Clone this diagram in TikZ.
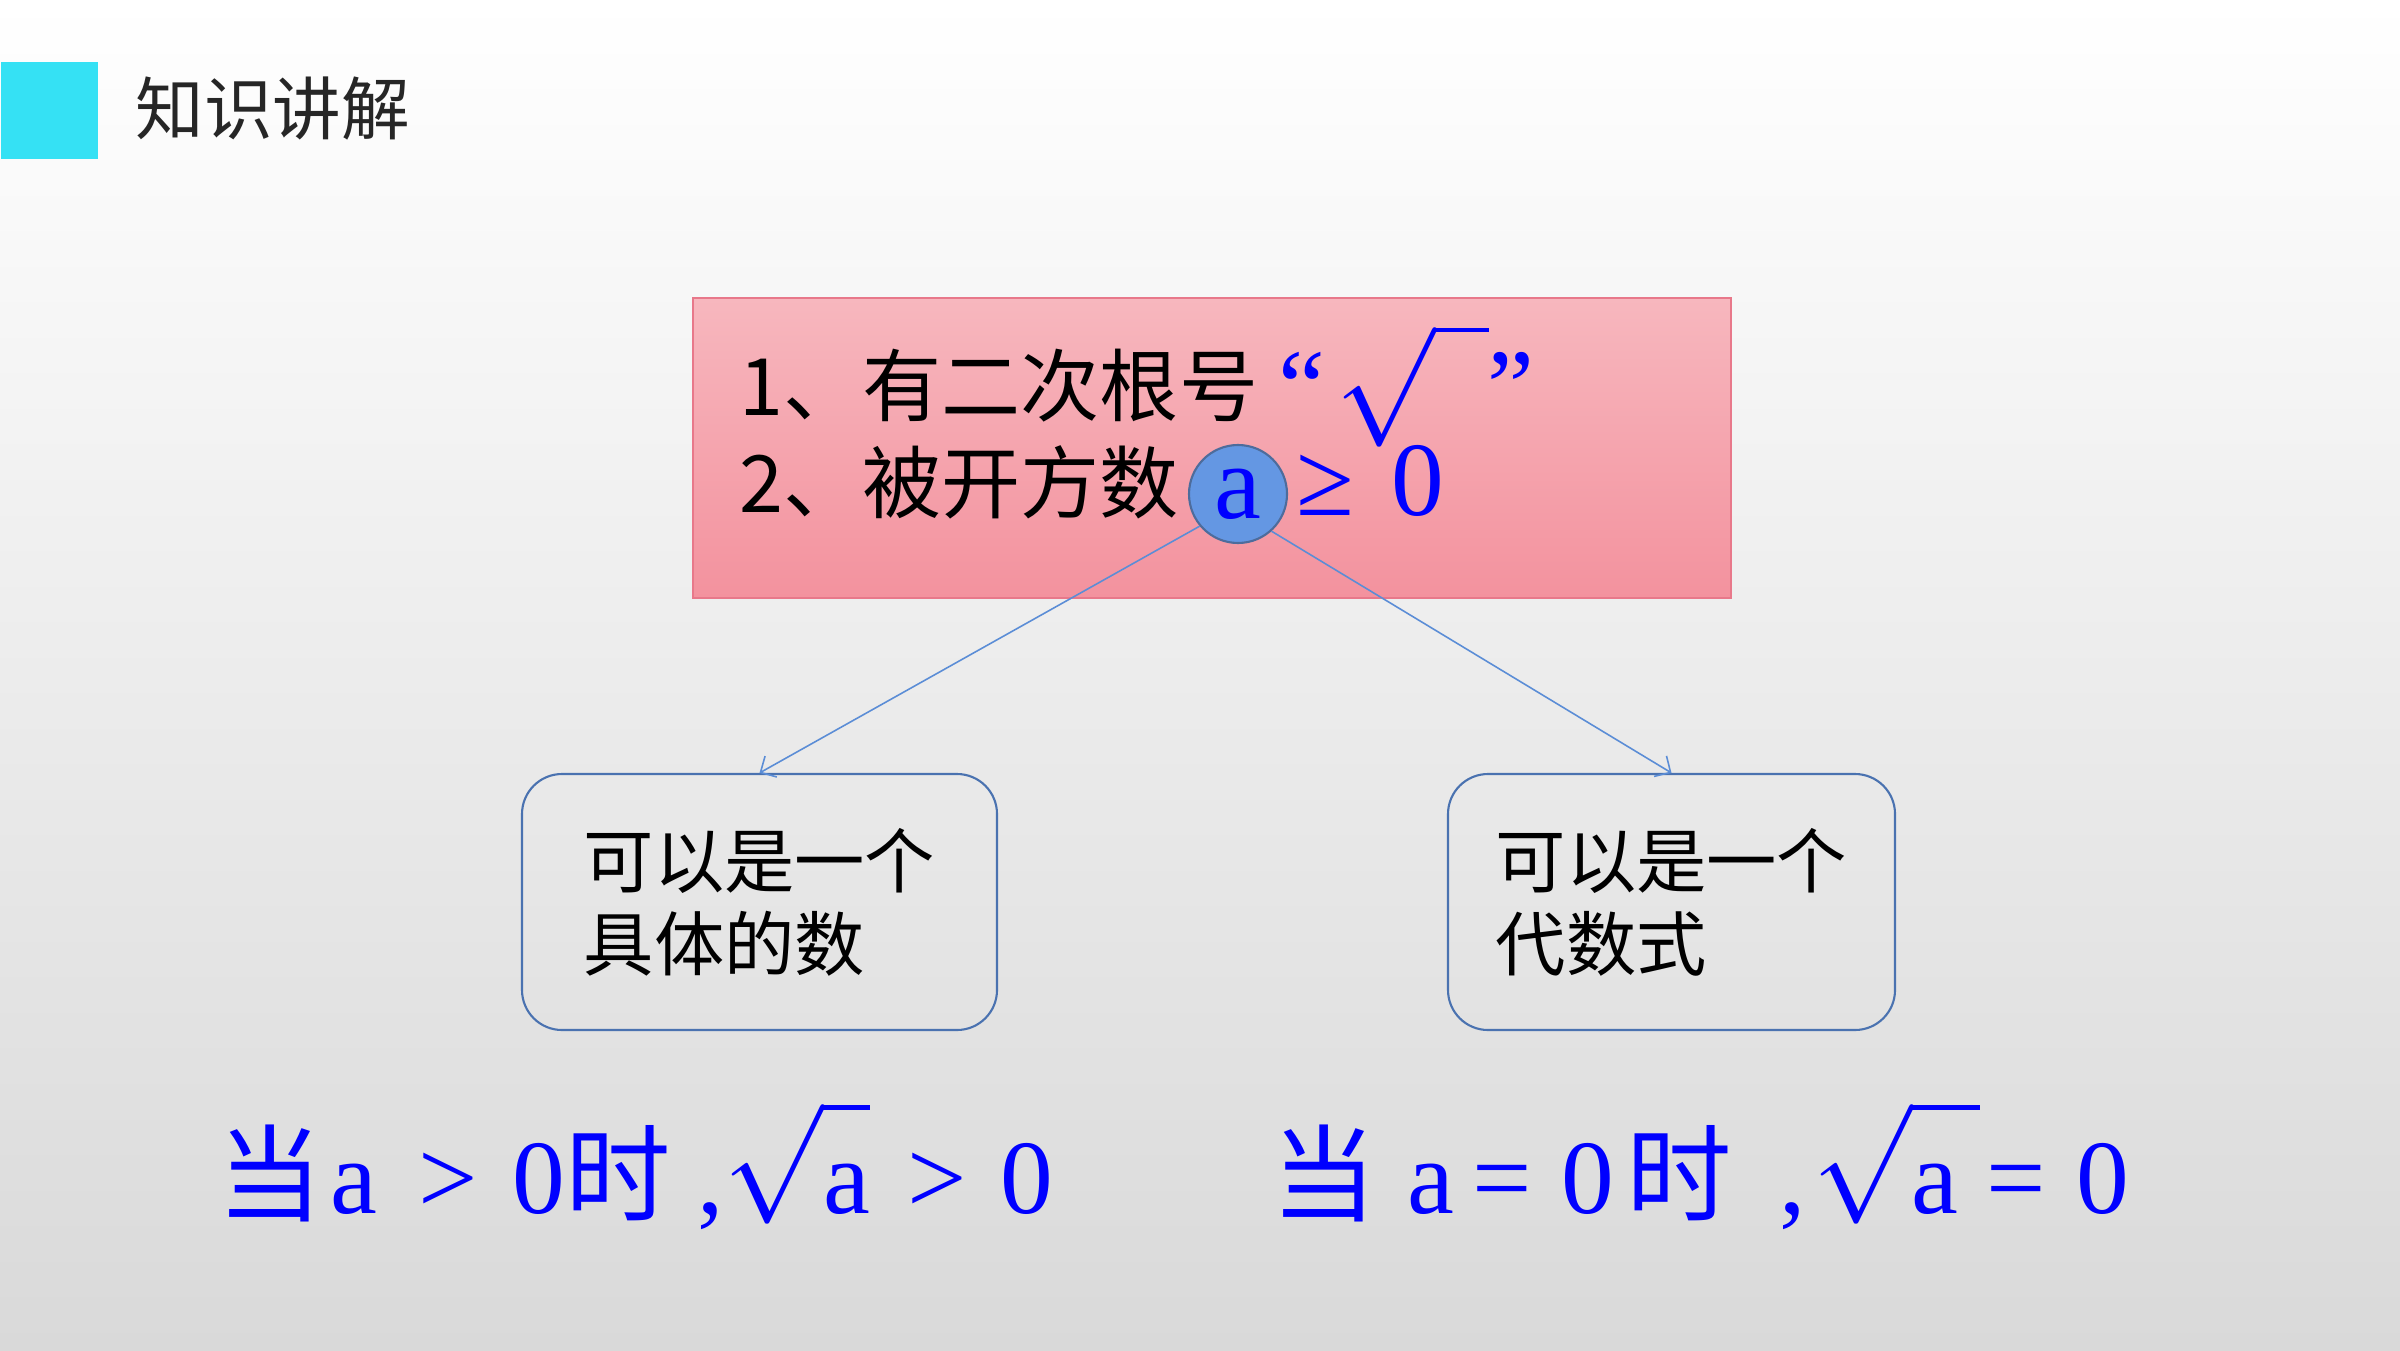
\documentclass[tikz,border=0pt]{standalone}
\usepackage{fix-cm}
\usepackage{amsmath}
\usepackage{fontspec}
\setmainfont{Liberation Serif}
\newfontfamily\cjk{Noto Sans CJK SC}
\definecolor{kpCyan}{HTML}{35E1F4}
\definecolor{kpTitle}{HTML}{262626}
\definecolor{kpPinkTop}{HTML}{F7B7BE}
\definecolor{kpPinkBot}{HTML}{F3929E}
\definecolor{kpPinkLine}{HTML}{E8788A}
\definecolor{kpCircle}{HTML}{6497E3}
\definecolor{kpCircleLine}{HTML}{4D6C9C}
\definecolor{kpLink}{HTML}{5B8DD6}
\definecolor{kpBox}{HTML}{4A72B0}
\definecolor{kpBlue}{HTML}{0000FF}
\definecolor{kpBgMid}{HTML}{F2F2F2}
\definecolor{kpBgBot}{HTML}{D9D9D9}
\usetikzlibrary{arrows.meta}
\newcommand{\bigroot}[1]{{\fontsize{34}{40}\selectfont$\sqrt{#1}$}}
\newcommand{\liftroot}[1]{\raisebox{0.18cm}{\bigroot{\vphantom{x}\smash{\raisebox{-0.18cm}{\fontsize{30}{36}\selectfont #1}}}}}

\begin{document}
\begin{tikzpicture}[
  title/.style={font=\cjk\fontsize{19.5}{24}\selectfont, text=kpTitle,
    anchor=west, inner sep=0pt},
  line/.style={font=\cjk\fontsize{22.5}{27.6}\selectfont, anchor=base west,
    align=left, inner sep=0pt},
  sym/.style={font=\fontsize{30}{36}\selectfont, text=kpBlue, inner sep=0pt},
  panel/.style={draw=kpPinkLine, line width=0.5pt, top color=kpPinkTop,
    bottom color=kpPinkBot, minimum width=10.38cm, minimum height=3cm},
  choice/.style={draw=kpBox, line width=0.6pt, rounded corners=0.4cm,
    minimum height=2.56cm, align=left, inner sep=0pt,
    font=\cjk\fontsize{20}{23.6}\selectfont},
  link/.style={draw=kpLink, line width=0.45pt,
    -{Straight Barb[length=1.2mm, width=2.4mm]}}]
  \useasboundingbox (0,0) rectangle (24,13.5);
  \fill[top color=white, middle color=kpBgMid, bottom color=kpBgBot]
    (0,0) rectangle (24,13.5);
  \node[fill=kpCyan, minimum size=0.97cm, inner sep=0pt, anchor=north west]
    (mark) at (0,12.89) {};
  \node[title] (title) at (1.35,12.41) {知识讲解};

  \node[panel] (panel) at (12.12,9.02) {};
  \node[line] (rules) at (7.39,8.38) {1、有二次根号\\2、被开方数};
  \node[sym, anchor=base west] (qopen) at (12.78,9.28) {“};
  \node[sym] (radsign) at (14.12,9.65) {\bigroot{\vphantom{a}\hspace{0.45em}}};
  \node[sym, anchor=base west] (qclose) at (14.87,9.28) {”};
  \node[sym, circle, draw=kpCircleLine, fill=kpCircle, line width=0.6pt,
    minimum size=0.98cm] (rad) at (12.38,8.56) {a};
  \node[sym, anchor=base west] (geq) at (12.96,8.35) {≥\hspace{0.35em}0};

  \node[choice, minimum width=4.75cm] (lbox) at (7.595,4.48) {可以是一个\\具体的数};
  \node[choice, minimum width=4.47cm] (rbox) at (16.715,4.48) {可以是一个\\代数式};
  \draw[link] (rad.220) -- (lbox.north);
  \draw[link] (rad.-48) -- (rbox.north);

  \node[sym, anchor=base west] (condpos) at (2.17,1.37)
    {{\cjk 当}\hspace{0.07em}a\hspace{0.39em}>\hspace{0.33em}0{\cjk 时}\hspace{0.25em},\liftroot{a}\hspace{0.36em}>\hspace{0.31em}0};
  \node[sym, anchor=base west] (condzero) at (12.71,1.37)
    {{\cjk 当}\hspace{0.29em}a\hspace{0.17em}=\hspace{0.28em}0\hspace{0.12em}{\cjk 时}\hspace{0.45em},\hspace{0.06em}\liftroot{a\hspace{0.2em}}\hspace{0.06em}=\hspace{0.29em}0};
\end{tikzpicture}
\end{document}
